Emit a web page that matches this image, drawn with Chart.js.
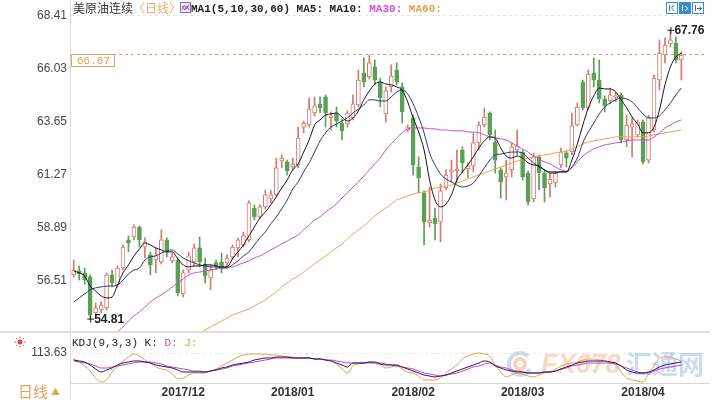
<!DOCTYPE html>
<html>
<head>
<meta charset="utf-8">
<script src="https://cdn.jsdelivr.net/npm/chart.js@4.4.1/dist/chart.umd.min.js"></script>
<style>
  html, body { margin: 0; padding: 0; background: #fff; }
  #wrap { position: relative; width: 726px; height: 400px; overflow: hidden; background: #fff; }
  #main { position: absolute; left: 0; top: 0; }
  #kdj { position: absolute; left: 0; top: 333px; }
</style>
</head>
<body>
<div id="wrap">
  <canvas id="main" width="726" height="333"></canvas>
  <canvas id="kdj" width="726" height="67"></canvas>
</div>
<script>
// ---- trading days (categories) ----
const tradingDays = {
  '2017/11': [2,3,6,7,8,9,10,13,14,15,16,17,20,21,22,24,27,28,29,30],
  '2017/12': [1,4,5,6,7,8,11,12,13,14,15,18,19,20,21,22,26,27,28,29],
  '2018/01': [2,3,4,5,8,9,10,11,12,15,16,17,18,19,22,23,24,25,26,29,30,31],
  '2018/02': [1,2,5,6,7,8,9,12,13,14,15,16,19,20,21,22,23,26,27,28],
  '2018/03': [1,2,5,6,7,8,9,12,13,14,15,16,19,20,21,22,23,26,27,28,29,30],
  '2018/04': [2,3,4,5,6,9,10,11]
};
const categories = [];
for (const [ym, days] of Object.entries(tradingDays)) {
  for (const d of days) categories.push(ym + '/' + String(d).padStart(2, '0'));
}
const blankSlots = 4; // empty room after the last session

// ---- daily OHLC ----
const opens = [
  56.77,56.95,56.86,56.68,55.06,55.20,55.29,56.77,56.32,57.08,
  58.34,58.47,58.92,58.02,57.67,57.44,57.35,58.34,57.40,57.44,
  55.92,56.99,57.35,57.98,57.26,56.63,57.31,57.35,57.31,57.58,
  57.98,58.11,58.34,59.77,59.37,59.82,60.18,60.36,61.88,61.84,
  61.61,61.70,63.40,63.49,64.03,64.44,64.75,63.81,63.99,63.58,
  63.54,63.81,64.39,65.83,65.65,66.10,65.42,63.99,65.20,65.96,
  65.20,63.27,63.81,61.61,60.45,59.10,59.32,59.15,60.67,61.39,
  61.43,62.37,61.52,61.66,62.69,63.49,64.03,62.73,61.48,61.16,
  61.48,62.37,62.28,61.34,60.18,62.06,61.34,60.85,60.89,61.70,
  62.24,62.28,63.49,65.42,64.26,65.83,65.51,64.66,64.57,64.71,
  64.84,62.82,63.40,63.05,63.63,61.92,63.27,65.51,66.63,67.13,
  67.17,66.41
];
const highs = [
  57.44,57.17,57.08,56.77,55.51,55.56,56.86,56.99,57.17,58.11,
  58.52,59.01,58.97,58.43,57.80,57.98,58.79,58.43,57.75,57.53,
  56.99,57.80,58.16,58.47,57.53,57.22,57.44,57.75,57.67,58.11,
  58.43,58.70,60.09,59.91,59.91,60.58,60.58,62.01,62.15,61.92,
  62.01,63.40,63.67,64.71,64.75,64.75,64.84,64.08,64.30,63.76,
  64.12,64.84,65.96,66.50,66.63,66.41,65.60,65.20,66.19,66.28,
  65.38,63.49,63.94,62.06,60.54,60.71,59.77,60.85,61.48,61.92,
  62.37,62.51,61.79,63.14,63.63,64.26,64.08,63.27,61.57,61.92,
  62.69,63.27,62.37,61.43,62.24,62.15,61.48,61.34,61.43,62.46,
  62.33,64.03,64.48,65.51,65.96,66.50,66.41,64.80,65.15,64.97,
  64.93,63.94,63.81,63.72,63.72,63.94,65.74,67.31,67.40,67.76,
  67.44,66.77
];
const lows = [
  56.68,56.54,56.36,54.81,54.88,55.06,55.20,56.23,56.23,56.99,
  57.80,58.34,58.02,57.53,56.77,56.86,57.26,57.58,57.31,55.83,
  55.78,56.86,57.17,57.13,56.41,56.10,56.99,56.86,57.08,57.49,
  57.58,58.02,58.25,59.23,59.28,59.73,60.00,60.27,61.57,61.25,
  61.48,61.57,63.14,63.40,63.90,64.03,63.40,63.27,63.40,62.82,
  63.40,63.72,64.30,65.20,65.56,65.29,64.30,63.63,64.97,65.29,
  63.58,63.18,61.25,60.45,58.11,58.92,58.34,58.25,60.58,60.94,
  60.89,61.34,61.12,61.39,62.37,63.40,62.82,61.34,60.22,60.13,
  61.16,62.15,61.03,59.91,60.04,60.58,60.04,60.27,60.71,61.57,
  61.61,62.15,63.45,64.17,64.17,65.20,64.48,64.08,64.44,64.53,
  62.69,62.51,62.06,62.96,61.75,61.79,63.18,65.06,66.28,66.99,
  66.28,65.51
];
const closes = [
  56.99,56.81,56.54,54.97,55.29,55.42,56.77,56.41,57.08,58.02,
  58.20,58.92,58.34,58.25,57.22,57.67,58.34,57.80,57.58,55.96,
  56.86,57.62,57.98,57.35,56.72,56.99,57.17,57.13,57.53,58.02,
  58.34,58.52,60.00,59.37,59.82,60.36,60.36,61.57,62.01,61.43,
  61.75,62.91,63.58,64.21,64.35,64.26,64.03,63.90,63.67,63.23,
  64.03,64.44,65.51,65.42,66.28,65.51,64.71,65.02,65.69,65.42,
  64.08,63.40,61.70,61.12,59.15,59.23,59.06,60.54,61.25,61.48,
  61.52,61.79,61.66,62.69,63.49,63.85,63.05,61.92,60.94,61.34,
  62.51,62.55,61.16,60.04,62.06,61.34,60.67,61.07,61.34,62.28,
  62.01,63.45,64.30,64.26,65.78,65.51,64.66,64.35,64.84,64.80,
  62.82,63.49,63.54,63.63,61.84,63.81,65.60,66.72,67.08,67.31,
  66.41,66.63
];

// ---- moving averages MA5 / MA10 / MA30 / MA60 ----
const ma5 = [
  56.95,56.86,56.72,56.27,56.05,55.83,55.74,55.78,56.32,56.86,
  57.22,57.62,57.93,58.20,58.11,57.98,57.89,57.80,57.80,57.49,
  57.22,57.13,57.17,57.17,57.22,57.22,57.17,57.13,57.13,57.49,
  57.80,58.11,58.52,58.92,59.32,59.59,59.91,60.27,60.67,61.03,
  61.48,61.75,62.28,62.82,63.49,63.72,63.94,63.99,64.03,63.85,
  63.67,63.81,64.12,64.62,65.02,65.33,65.42,65.33,65.29,65.20,
  65.06,64.53,63.81,63.18,62.37,61.03,60.13,59.82,59.95,60.36,
  61.03,61.39,61.70,62.06,62.46,62.78,62.96,62.91,62.46,62.10,
  62.01,62.10,62.01,61.79,61.70,61.66,61.48,61.34,61.34,61.39,
  61.39,61.92,62.64,63.49,64.26,64.80,65.15,65.11,65.11,64.97,
  64.62,64.26,63.85,63.54,63.14,63.14,63.40,64.17,65.29,66.10,
  66.54,66.72
];
const ma10 = [
  55.56,55.74,55.92,56.10,56.19,56.23,56.27,56.27,56.32,56.54,
  56.81,56.99,57.08,57.44,57.58,57.62,57.75,57.84,57.89,57.71,
  57.53,57.40,57.31,57.22,57.17,57.13,57.13,57.08,57.08,57.22,
  57.40,57.62,57.80,58.11,58.43,58.70,59.06,59.37,59.73,60.13,
  60.62,60.94,61.39,61.79,62.28,62.78,63.14,63.40,63.54,63.67,
  63.81,64.03,64.21,64.39,64.62,64.62,64.57,64.57,64.75,64.97,
  65.06,64.88,64.44,63.85,63.14,62.24,61.70,61.30,61.07,60.94,
  60.80,60.71,60.76,60.89,61.21,61.57,61.92,62.15,62.19,62.24,
  62.28,62.28,62.24,62.01,61.79,61.61,61.48,61.39,61.39,61.39,
  61.39,61.61,62.01,62.69,63.18,63.58,63.99,64.30,64.48,64.62,
  64.71,64.66,64.53,64.26,63.99,63.81,63.81,63.90,64.17,64.48,
  64.84,65.15
];
const ma30 = [
  null,null,null,null,null,null,null,53.94,54.21,54.44,
  54.71,54.93,55.11,55.33,55.56,55.74,55.87,56.05,56.23,56.41,
  56.59,56.77,56.86,56.90,56.95,56.99,57.04,57.08,57.13,57.13,
  57.22,57.31,57.40,57.53,57.62,57.75,57.89,58.02,58.16,58.29,
  58.43,58.56,58.79,59.01,59.23,59.37,59.59,59.77,59.95,60.22,
  60.45,60.71,60.94,61.21,61.48,61.75,62.01,62.37,62.64,62.91,
  63.14,63.32,63.36,63.36,63.36,63.32,63.32,63.27,63.27,63.23,
  63.23,63.23,63.18,63.18,63.14,63.05,62.96,62.91,62.87,62.82,
  62.69,62.55,62.42,62.28,62.10,61.97,61.84,61.75,61.61,61.48,
  61.43,61.57,61.84,62.10,62.28,62.42,62.51,62.60,62.64,62.69,
  62.73,62.78,62.82,62.82,62.82,62.82,62.96,63.14,63.36,63.49,
  63.63,63.72
];
const ma60 = [
  null,null,null,null,null,null,null,null,null,null,
  null,null,null,null,null,null,null,null,null,null,
  null,null,53.99,54.17,54.30,54.44,54.57,54.71,54.84,54.97,
  55.06,55.15,55.24,55.38,55.51,55.65,55.83,56.01,56.23,56.41,
  56.59,56.72,56.90,57.08,57.26,57.44,57.62,57.80,57.98,58.16,
  58.38,58.61,58.79,58.97,59.19,59.41,59.59,59.77,59.95,60.13,
  60.22,60.31,60.40,60.45,60.49,60.58,60.67,60.71,60.76,60.80,
  60.89,60.98,61.07,61.16,61.25,61.34,61.43,61.52,61.61,61.70,
  61.79,61.88,61.92,62.01,62.06,62.10,62.15,62.19,62.24,62.28,
  62.33,62.42,62.51,62.64,62.73,62.78,62.82,62.87,62.91,62.96,
  62.96,62.96,62.96,62.96,62.96,63.00,63.05,63.09,63.14,63.18,
  63.23,63.27
];

// ---- KDJ(9,3,3) ----
const kdjK = [
  83.3,79.2,75,62.5,45.8,33.3,41.7,50,62.5,70.8,
  75,79.2,79.2,75,70.8,62.5,58.3,54.2,50,41.7,
  33.3,33.3,33.3,33.3,33.3,37.5,41.7,50,54.2,62.5,
  66.7,70.8,75,83.3,87.5,91.7,91.7,95.8,95.8,95.8,
  91.7,91.7,91.7,91.7,87.5,87.5,83.3,79.2,70.8,62.5,
  54.2,70.8,70.8,70.8,75,75,66.7,62.5,62.5,62.5,
  54.2,45.8,37.5,29.2,20.8,16.7,12.5,16.7,20.8,29.2,
  37.5,45.8,54.2,62.5,70.8,79.2,75,58.3,50,41.7,
  37.5,33.3,33.3,29.2,29.2,29.2,33.3,33.3,37.5,45.8,
  54.2,62.5,70.8,75,79.2,79.2,79.2,79.2,75,70.8,
  58.3,41.7,33.3,29.2,29.2,33.3,41.7,54.2,62.5,66.7,
  70.8,75
];
const kdjD = [
  79.2,75,70.8,66.7,58.3,50,50,54.2,58.3,62.5,
  66.7,70.8,75,75,75,70.8,66.7,58.3,54.2,50,
  45.8,41.7,37.5,37.5,33.3,37.5,41.7,45.8,50,58.3,
  62.5,66.7,70.8,75,79.2,83.3,87.5,91.7,91.7,91.7,
  91.7,91.7,91.7,91.7,87.5,87.5,83.3,83.3,79.2,75,
  70.8,70.8,70.8,70.8,70.8,70.8,70.8,66.7,62.5,58.3,
  54.2,50,45.8,37.5,29.2,25,20.8,16.7,20.8,25,
  29.2,37.5,45.8,54.2,58.3,66.7,70.8,62.5,54.2,50,
  41.7,37.5,33.3,29.2,29.2,29.2,33.3,33.3,37.5,45.8,
  50,58.3,62.5,66.7,70.8,70.8,70.8,70.8,70.8,66.7,
  58.3,50,41.7,33.3,29.2,29.2,37.5,45.8,50,54.2,
  58.3,62.5
];
const kdjJ = [
  87.5,75,58.3,37.5,8.3,-8.3,0,33.3,58.3,79.2,
  95.8,108.3,100,83.3,70.8,54.2,45.8,41.7,25,4.2,
  8.3,20.8,29.2,29.2,29.2,37.5,45.8,58.3,70.8,83.3,
  95.8,104.2,108.3,108.3,108.3,108.3,104.2,104.2,100,95.8,
  95.8,91.7,91.7,91.7,87.5,87.5,83.3,79.2,66.7,45.8,
  29.2,58.3,66.7,70.8,75,70.8,62.5,50,54.2,58.3,
  45.8,33.3,29.2,16.7,0,0,0,8.3,29.2,45.8,
  62.5,87.5,100,108.3,112.5,108.3,100,62.5,33.3,12.5,
  20.8,29.2,25,16.7,12.5,20.8,29.2,33.3,45.8,58.3,
  66.7,70.8,75,83.3,87.5,87.5,83.3,79.2,70.8,62.5,
  33.3,8.3,0,-4.2,-8.3,25,58.3,91.7,95.8,95.8,
  87.5,79.2
];

// ---- axis ticks / reference price ----
const priceTicks = [56.51, 58.89, 61.27, 63.65, 66.03, 68.41];
const kdjTicks = [113.63];
const refPrice = 66.67;

// ---- styling ----
const UP = '#cf7b6e', DOWN = '#5b9f58';
const C_MA5 = '#161616', C_MA10 = '#2e3b73', C_MA30 = '#d04ed2', C_MA60 = '#eea34a';
const C_K = '#1b1b52', C_D = '#c83ec8', C_J = '#dda052';
const AXIS_FONT = { family: '"Liberation Sans", Arial, sans-serif', size: 12 };
const MONO = '"Liberation Mono", "DejaVu Sans Mono", monospace';
const CJK = '"Noto Sans CJK SC", sans-serif';

const allLabels = categories.concat(Array(blankSlots).fill(''));
const isUp = closes.map((c, i) => c >= opens[i]);

function monthTick(i) {
  if (i <= 0 || i >= categories.length) return '';
  const m = categories[i].slice(0, 7);
  return m !== categories[i - 1].slice(0, 7) ? m : '';
}

function lineSet(label, data, color, order) {
  return {
    type: 'line', label, data, borderColor: color, borderWidth: 1,
    pointRadius: 0, cubicInterpolationMode: 'monotone', spanGaps: false, order
  };
}

function vDivider(ctx, x, h) {
  ctx.fillStyle = '#dadada';
  ctx.fillRect(x - 1, 0, 1, h);
}

// decorations of the price panel
const mainDecor = {
  id: 'mainDecor',
  beforeDatasetsDraw(chart) {
    const { ctx, chartArea: a, scales: { y } } = chart;
    ctx.save();
    ctx.lineWidth = 1;
    ctx.setLineDash([3, 3]);
    let py = Math.round(y.getPixelForValue(priceTicks[priceTicks.length - 1])) + 0.5;
    ctx.strokeStyle = '#e3e3e3';
    ctx.beginPath(); ctx.moveTo(a.left, py); ctx.lineTo(a.right + 1, py); ctx.stroke();
    py = Math.round(y.getPixelForValue(refPrice)) + 0.5;
    ctx.strokeStyle = '#e2a35a';
    ctx.beginPath(); ctx.moveTo(a.left, py); ctx.lineTo(a.right + 1, py); ctx.stroke();
    ctx.restore();
  },
  afterDraw(chart) {
    const { ctx, chartArea: a, scales: { x, y } } = chart;
    ctx.save();
    vDivider(ctx, a.left, chart.height);
    ctx.fillStyle = '#e0e0e0';
    ctx.fillRect(0, chart.height - 2, a.right + 4, 2);

    // reference price tag
    const py = Math.round(y.getPixelForValue(refPrice)) + 0.5;
    ctx.fillStyle = '#fff';
    ctx.fillRect(a.left + 0.5, py, 43, 12);
    ctx.strokeStyle = '#e2a35a'; ctx.lineWidth = 1;
    ctx.strokeRect(a.left + 0.5, py, 43, 12);
    ctx.fillStyle = '#e0a058';
    ctx.font = '11px ' + MONO;
    ctx.textAlign = 'center'; ctx.textBaseline = 'middle';
    ctx.fillText(refPrice.toFixed(2), a.left + 22.5, py + 6.5);

    // highest high / lowest low markers
    let hi = 0, lo = 0;
    highs.forEach((v, i) => { if (v > highs[hi]) hi = i; });
    lows.forEach((v, i) => { if (v < lows[lo]) lo = i; });
    const mark = (i, v) => {
      const px = x.getPixelForValue(i), qy = y.getPixelForValue(v);
      ctx.strokeStyle = '#222'; ctx.lineWidth = 1;
      ctx.beginPath();
      ctx.moveTo(px - 3, qy + 0.5); ctx.lineTo(px + 4, qy + 0.5);
      ctx.moveTo(px + 0.5, qy - 3); ctx.lineTo(px + 0.5, qy + 4);
      ctx.stroke();
      ctx.fillStyle = '#222';
      ctx.font = 'bold 12px "Liberation Sans", Arial';
      ctx.textAlign = 'left'; ctx.textBaseline = 'middle';
      ctx.fillText(v.toFixed(2), px + 4, qy + 1);
    };
    mark(lo, lows[lo]);
    mark(hi, highs[hi]);

    // title row
    ctx.textAlign = 'left'; ctx.textBaseline = 'middle';
    let tx = 73;
    const ty = 8;
    ctx.font = '12px ' + CJK;
    ctx.fillStyle = '#333';
    ctx.fillText('美原油连续', tx, ty);
    tx += ctx.measureText('美原油连续').width;
    ctx.fillStyle = '#e6b276';
    ctx.fillText('〈日线〉', tx, ty);
    // indicator icon
    ctx.fillStyle = '#f3ebf8';
    ctx.fillRect(180.5, 2.5, 10, 10);
    ctx.strokeStyle = '#8a6cb8'; ctx.lineWidth = 1;
    ctx.strokeRect(180.5, 2.5, 10, 10);
    ctx.strokeStyle = '#c04ec0';
    ctx.beginPath(); ctx.moveTo(182, 10); ctx.lineTo(184.5, 5); ctx.lineTo(186.5, 9); ctx.lineTo(189, 4); ctx.stroke();
    ctx.strokeStyle = '#4f6fc0';
    ctx.beginPath(); ctx.moveTo(182, 6); ctx.lineTo(185, 10); ctx.lineTo(187, 6); ctx.lineTo(189, 10); ctx.stroke();

    ctx.font = 'bold 11px ' + MONO;
    tx = 191;
    const parts = [['MA1(5,10,30,60) MA5: MA10: ', '#222'], ['MA30: ', C_MA30], ['MA60:', '#e8a04a']];
    for (const [t, c] of parts) {
      ctx.fillStyle = c;
      ctx.fillText(t, tx, ty + 1);
      tx += ctx.measureText(t).width;
    }

    // toolbar buttons (top right)
    const btn = (bx, filled) => {
      ctx.fillStyle = filled ? '#3b8ad6' : '#fff';
      ctx.fillRect(bx + 0.5, 2.5, 11, 11);
      ctx.strokeStyle = '#3b8ad6';
      ctx.strokeRect(bx + 0.5, 2.5, 11, 11);
    };
    btn(666, false); btn(679, true); btn(692, false);
    ctx.strokeStyle = '#3b6ea8'; ctx.lineWidth = 1;
    ctx.beginPath();
    ctx.moveTo(669.5, 5); ctx.lineTo(669.5, 11);
    ctx.moveTo(674, 5); ctx.lineTo(671.5, 8); ctx.lineTo(674, 11);
    ctx.stroke();
    ctx.strokeStyle = '#fff';
    ctx.beginPath();
    ctx.moveTo(682.5, 5); ctx.lineTo(682.5, 11);
    ctx.moveTo(685, 6); ctx.lineTo(688, 8.5); ctx.lineTo(685, 11);
    ctx.stroke();
    ctx.strokeStyle = '#3b6ea8';
    ctx.beginPath();
    ctx.moveTo(695.5, 5); ctx.lineTo(695.5, 11);
    ctx.moveTo(697, 8.5); ctx.lineTo(701.5, 8.5);
    ctx.moveTo(699.5, 6.5); ctx.lineTo(701.5, 8.5); ctx.lineTo(699.5, 10.5);
    ctx.stroke();
    ctx.restore();
  }
};

// decorations of the KDJ panel
const kdjDecor = {
  id: 'kdjDecor',
  beforeDatasetsDraw(chart) {
    const { ctx, chartArea: a, scales: { y } } = chart;
    ctx.save();
    const py = Math.round(y.getPixelForValue(kdjTicks[0])) + 0.5;
    ctx.strokeStyle = '#e6e6e6'; ctx.lineWidth = 1; ctx.setLineDash([3, 3]);
    ctx.beginPath(); ctx.moveTo(a.left, py); ctx.lineTo(a.right + 1, py); ctx.stroke();
    ctx.restore();

    // watermark behind the indicator lines
    ctx.save();
    ctx.globalAlpha = 0.5;
    ctx.lineWidth = 4;
    ctx.strokeStyle = '#9fb6d6';
    ctx.beginPath(); ctx.arc(520, 31, 11, Math.PI * 0.15, Math.PI * 1.75); ctx.stroke();
    ctx.strokeStyle = '#f0a878';
    ctx.beginPath(); ctx.arc(520, 31, 5, 0, Math.PI * 2); ctx.stroke();
    ctx.font = 'italic bold 27px "Liberation Sans", Arial';
    ctx.textAlign = 'left'; ctx.textBaseline = 'middle';
    ctx.fillStyle = '#f2b48a';
    ctx.fillText('FX678', 541, 33);
    ctx.font = 'bold 26px ' + CJK;
    ctx.fillStyle = '#9ab8e0';
    ctx.fillText('汇通网', 626, 31);
    ctx.restore();
  },
  afterDraw(chart) {
    const { ctx, chartArea: a } = chart;
    ctx.save();
    vDivider(ctx, a.left, chart.height);
    ctx.fillStyle = '#d6d6d6';
    ctx.fillRect(a.left, a.bottom, a.right - a.left + 4, 1);

    ctx.textAlign = 'left'; ctx.textBaseline = 'middle';
    ctx.font = '11px ' + MONO;
    let tx = 72;
    const parts = [['KDJ(9,3,3) K: ', '#222'], ['D: ', C_D], ['J:', '#e0a04c']];
    for (const [t, c] of parts) {
      ctx.fillStyle = c;
      ctx.fillText(t, tx, 10);
      tx += ctx.measureText(t).width;
    }

    // small settings sun
    ctx.fillStyle = '#e0463c';
    ctx.beginPath(); ctx.arc(20, 9, 2.5, 0, Math.PI * 2); ctx.fill();
    ctx.strokeStyle = '#e0463c'; ctx.lineWidth = 1;
    for (let k = 0; k < 8; k++) {
      const ang = k * Math.PI / 4;
      ctx.beginPath();
      ctx.moveTo(20 + Math.cos(ang) * 4, 9 + Math.sin(ang) * 4);
      ctx.lineTo(20 + Math.cos(ang) * 5.5, 9 + Math.sin(ang) * 5.5);
      ctx.stroke();
    }

    // period selector
    ctx.fillStyle = '#e3a25c';
    ctx.font = '15px ' + CJK;
    ctx.fillText('日线', 18, 58);
    ctx.font = '9px ' + CJK;
    ctx.fillText('▲', 51, 59);
    ctx.restore();
  }
};

Chart.defaults.animation = false;

new Chart(document.getElementById('main'), {
  type: 'bar',
  data: {
    labels: allLabels,
    datasets: [
      lineSet('MA5', ma5, C_MA5, 0),
      lineSet('MA10', ma10, C_MA10, 0),
      lineSet('MA30', ma30, C_MA30, 0),
      lineSet('MA60', ma60, C_MA60, 0),
      {
        type: 'bar', label: 'body',
        data: opens.map((o, i) => [o, closes[i]]),
        backgroundColor: isUp.map(u => u ? '#ffffff' : DOWN),
        borderColor: isUp.map(u => u ? UP : DOWN),
        borderWidth: 1, borderSkipped: false, barThickness: 4,
        minBarLength: 2, grouped: false, order: 1
      },
      {
        type: 'bar', label: 'wick',
        data: lows.map((l, i) => [l, highs[i]]),
        backgroundColor: isUp.map(u => u ? UP : DOWN),
        borderWidth: 0, barThickness: 1, grouped: false, order: 2
      }
    ]
  },
  options: {
    responsive: false,
    animation: false,
    events: [],
    layout: { padding: { left: 0, right: 20, top: 0, bottom: 0 } },
    plugins: { legend: { display: false }, tooltip: { enabled: false } },
    scales: {
      x: { display: false, offset: true, grid: { display: false } },
      y: {
        min: 54.165, max: 69.097,
        afterBuildTicks: s => { s.ticks = priceTicks.map(v => ({ value: v })); },
        afterFit: s => { s.width = 71; s.paddingTop = 0; s.paddingBottom = 0; },
        ticks: { callback: v => Number(v).toFixed(2), color: '#474747', font: AXIS_FONT, padding: 4, autoSkip: false },
        grid: { display: false, drawTicks: false },
        border: { display: false }
      }
    }
  },
  plugins: [mainDecor]
});

new Chart(document.getElementById('kdj'), {
  type: 'line',
  data: {
    labels: allLabels,
    datasets: [
      lineSet('K', kdjK, C_K, 0),
      lineSet('D', kdjD, C_D, 1),
      lineSet('J', kdjJ, C_J, 2)
    ]
  },
  options: {
    responsive: false,
    animation: false,
    events: [],
    layout: { padding: { left: 0, right: 20, top: 2, bottom: 0 } },
    plugins: { legend: { display: false }, tooltip: { enabled: false } },
    scales: {
      x: {
        offset: true,
        afterFit: s => { s.height = 17; s.paddingLeft = 0; s.paddingRight = 0; },
        ticks: {
          autoSkip: false, maxRotation: 0, minRotation: 0, padding: 2,
          color: '#333', font: { family: AXIS_FONT.family, size: 12, weight: 'bold' },
          callback: (v, i) => monthTick(i)
        },
        grid: { display: false, drawTicks: false },
        border: { display: false }
      },
      y: {
        min: -12.5, max: 187.5,
        afterBuildTicks: s => { s.ticks = kdjTicks.map(v => ({ value: v })); },
        afterFit: s => { s.width = 71; s.paddingTop = 0; s.paddingBottom = 0; },
        ticks: { callback: v => Number(v).toFixed(2), color: '#474747', font: AXIS_FONT, padding: 4 },
        grid: { display: false, drawTicks: false },
        border: { display: false }
      }
    }
  },
  plugins: [kdjDecor]
});
</script>
</body>
</html>
